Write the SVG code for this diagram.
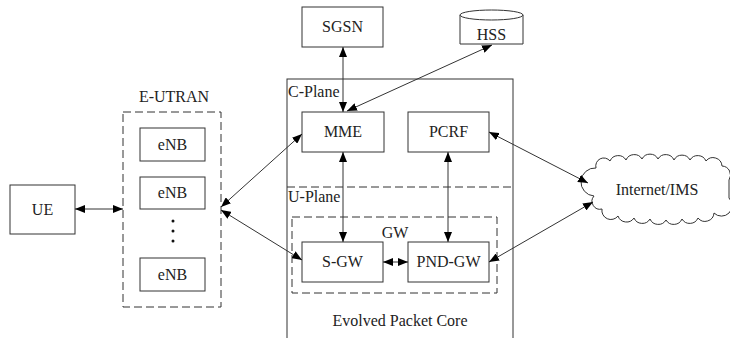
<svg xmlns="http://www.w3.org/2000/svg" width="730" height="338" viewBox="0 0 730 338">
  <defs>
    <marker id="ah" viewBox="0 0 10 8" refX="10" refY="4" markerWidth="10" markerHeight="8" markerUnits="userSpaceOnUse" orient="auto-start-reverse">
      <path d="M0,0 L10,4 L0,8 Z" fill="#000"/>
    </marker>
    <style>
      .box { fill: #fff; stroke: #333; stroke-width: 1; }
      .dash { fill: none; stroke: #333; stroke-width: 1; stroke-dasharray: 8 4; }
      .frame { fill: none; stroke: #333; stroke-width: 1; }
      .lbl { font-family: "Liberation Serif", "Times New Roman", serif; font-size: 16px; fill: #222; }
      .mid { text-anchor: middle; }
      .link { fill: none; stroke: #333; stroke-width: 1; marker-start: url(#ah); marker-end: url(#ah); }
    </style>
  </defs>
  <rect width="730" height="338" fill="#fff"/>

  <!-- Evolved Packet Core frame -->
  <g id="epc">
    <rect class="frame" x="287" y="79" width="226" height="275"/>
    <line class="dash" x1="287" y1="187" x2="513" y2="187"/>
    <text class="lbl" x="288" y="97">C-Plane</text>
    <text class="lbl" x="288" y="202">U-Plane</text>
    <text class="lbl mid" x="400" y="326">Evolved Packet Core</text>
  </g>

  <!-- E-UTRAN -->
  <g id="e-utran">
    <rect class="dash" x="123" y="112" width="98" height="195"/>
    <text class="lbl mid" x="174" y="102">E-UTRAN</text>
  </g>
  <g id="enb1">
    <rect class="box" x="140" y="128" width="65" height="33"/>
    <text class="lbl mid" x="172.5" y="150">eNB</text>
  </g>
  <g id="enb2">
    <rect class="box" x="140" y="177" width="65" height="32"/>
    <text class="lbl mid" x="172.5" y="198">eNB</text>
  </g>
  <g id="enb-more">
    <circle cx="173" cy="221" r="1.5" fill="#111"/>
    <circle cx="173" cy="231" r="1.5" fill="#111"/>
    <circle cx="173" cy="241" r="1.5" fill="#111"/>
  </g>
  <g id="enb3">
    <rect class="box" x="140" y="258" width="65" height="33"/>
    <text class="lbl mid" x="172.5" y="280">eNB</text>
  </g>

  <g id="ue">
    <rect class="box" x="10" y="185" width="65" height="49"/>
    <text class="lbl mid" x="42.5" y="215">UE</text>
  </g>

  <g id="sgsn">
    <rect class="box" x="302" y="7" width="81" height="40"/>
    <text class="lbl mid" x="342.5" y="32">SGSN</text>
  </g>

  <g id="hss">
    <path class="box" d="M460,15 L460,44 L523,44 L523,15"/>
    <ellipse class="box" cx="491.5" cy="15" rx="31.5" ry="5"/>
    <text class="lbl mid" x="491.5" y="40">HSS</text>
  </g>

  <g id="mme">
    <rect class="box" x="302" y="112" width="82" height="40"/>
    <text class="lbl mid" x="343" y="137">MME</text>
  </g>
  <g id="pcrf">
    <rect class="box" x="408" y="112" width="81" height="40"/>
    <text class="lbl mid" x="448.5" y="137">PCRF</text>
  </g>

  <g id="gw">
    <rect class="dash" x="292" y="217" width="205" height="76"/>
    <text class="lbl mid" x="395" y="238">GW</text>
  </g>
  <g id="s-gw">
    <rect class="box" x="302" y="242" width="81" height="40"/>
    <text class="lbl mid" x="342.5" y="267">S-GW</text>
  </g>
  <g id="pnd-gw">
    <rect class="box" x="408" y="242" width="81" height="40"/>
    <text class="lbl mid" x="448.5" y="267">PND-GW</text>
  </g>

  <g id="internet">
    <path class="box" d="M596,168 A8,8 0 0 1 610,161 A9,9 0 0 1 626,160 A9,9 0 0 1 642,159 A9,9 0 0 1 658,159 A9,9 0 0 1 674,160 A9,9 0 0 1 690,160 A9,9 0 0 1 706,161 A9,9 0 0 1 722,166 A9,9 0 0 1 729,180 L729,198 A9,9 0 0 1 714,213 A9,9 0 0 1 698,218 A9,9 0 0 1 682,219 A9,9 0 0 1 666,220 A9,9 0 0 1 650,219 A9,9 0 0 1 634,218 A9,9 0 0 1 618,216 A9,9 0 0 1 602,209 A8,8 0 0 1 594,196 A11,11 0 0 1 596,168 Z"/>
    <text class="lbl mid" x="657" y="195">Internet/IMS</text>
  </g>

  <!-- connectors -->
  <g id="links">
    <line class="link" x1="75" y1="209" x2="123" y2="209"/>
    <line class="link" x1="221" y1="207" x2="302" y2="134"/>
    <line class="link" x1="221" y1="210" x2="302" y2="260"/>
    <line class="link" x1="343" y1="47" x2="343" y2="112"/>
    <line class="link" x1="347" y1="111" x2="492" y2="45"/>
    <line class="link" x1="343" y1="152" x2="343" y2="242"/>
    <line class="link" x1="448" y1="152" x2="448" y2="242"/>
    <line class="link" x1="383" y1="262" x2="408" y2="262"/>
    <line class="link" x1="489" y1="132" x2="588" y2="183"/>
    <line class="link" x1="489" y1="262" x2="593" y2="202"/>
  </g>
</svg>
